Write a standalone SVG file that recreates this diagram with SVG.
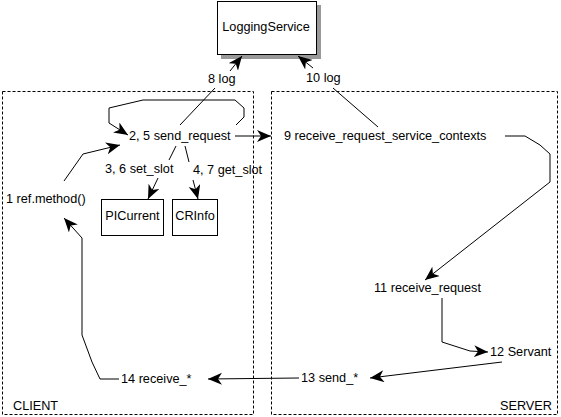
<svg xmlns="http://www.w3.org/2000/svg" width="561" height="417" viewBox="0 0 561 417">
<defs>
<style>
text{font-family:"Liberation Sans",Arial,sans-serif;font-size:12.7px;fill:#000}
.box{fill:#fff;stroke:#000;stroke-width:1}
.region{fill:none;stroke:#000;stroke-width:1;stroke-dasharray:3 2}
.c{fill:none;stroke:#000;stroke-width:1}
.a{marker-end:url(#ah)}
</style>
<marker id="ah" markerUnits="userSpaceOnUse" markerWidth="15" markerHeight="13" refX="14" refY="6" orient="auto">
<path d="M0,0 L14,6 L0,12 L4,6 z" fill="#000"/>
</marker>
</defs>
<rect width="561" height="417" fill="#fff"/>
<g id="client">
<rect class="region" x="2.5" y="91.5" width="251" height="323"/>
<text x="13" y="410">CLIENT</text>
</g>
<g id="server">
<rect class="region" x="271.5" y="91.5" width="286" height="323"/>
<text x="500" y="410">SERVER</text>
</g>
<g id="loggingservice">
<rect x="221" y="5" width="100" height="54" fill="#999"/>
<rect class="box" x="217.5" y="1.5" width="99" height="53"/>
<text x="266" y="31" text-anchor="middle">LoggingService</text>
</g>
<g id="picurrent">
<rect class="box" x="101.5" y="199.5" width="62" height="36"/>
<text x="132.5" y="220" text-anchor="middle">PICurrent</text>
</g>
<g id="crinfo">
<rect class="box" x="172.5" y="199.5" width="45" height="36"/>
<text x="195" y="220" text-anchor="middle">CRInfo</text>
</g>
<g id="labels">
<text x="6" y="203">1 ref.method()</text>
<text x="129" y="140">2, 5 send_request</text>
<text x="105" y="173">3, 6 set_slot</text>
<text x="193" y="174">4, 7 get_slot</text>
<text x="208" y="83">8 log</text>
<text x="284" y="140">9 receive_request_service_contexts</text>
<text x="306" y="82">10 log</text>
<text x="374" y="292">11 receive_request</text>
<text x="490" y="356">12 Servant</text>
<text x="301" y="382">13 send_*</text>
<text x="121" y="383">14 receive_*</text>
</g>
<g id="connectors">
<polyline class="c a" points="64,181 83,154 120,145"/>
<polyline class="c a" points="236,125 244,117 244,108 235,100 143,100 109,108 109,123 128,135"/>
<polyline class="c a" points="235,136 271,136"/>
<polyline class="c" points="180,125 215,88"/>
<polyline class="c a" points="230,71 242,56"/>
<polyline class="c" points="378,127 333,88"/>
<polyline class="c a" points="313,68 298,56"/>
<polyline class="c" points="176,146 169,160"/>
<polyline class="c a" points="158,178 148,199"/>
<polyline class="c" points="185,146 189,162"/>
<polyline class="c a" points="193,180 198,199"/>
<polyline class="c a" points="505,136 525,136 540,145 550,154 550,182 425,280"/>
<polyline class="c a" points="442,298 442,342 470,351 488,352"/>
<polyline class="c a" points="502,362 370,378"/>
<polyline class="c a" points="299,378 208,379"/>
<polyline class="c a" points="119,379 100,379 92,362 82,335 82,238 64,218"/>
</g>
</svg>
